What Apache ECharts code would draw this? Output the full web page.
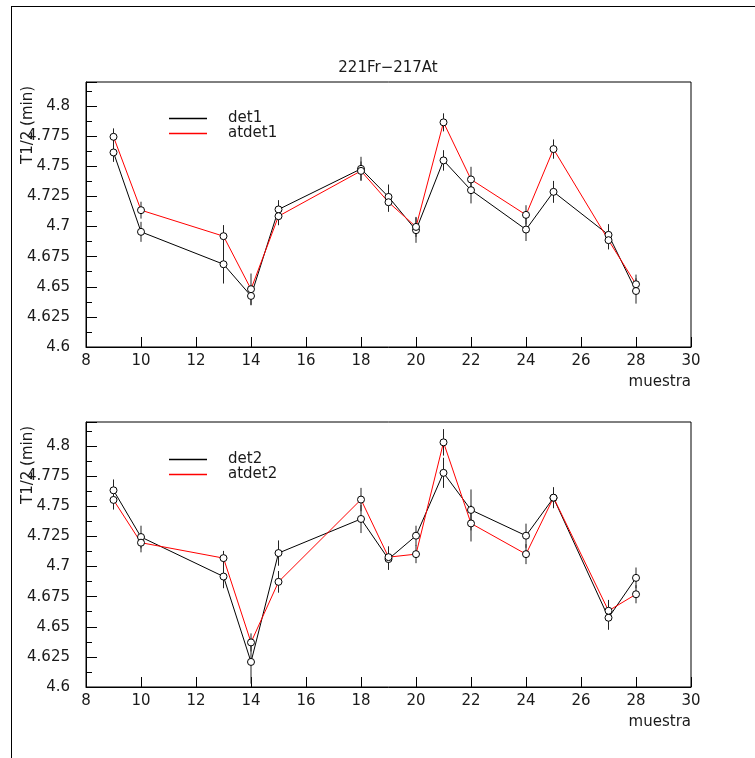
<!DOCTYPE html>
<html>
<head>
<meta charset="utf-8">
<script src="https://cdn.jsdelivr.net/npm/echarts@6/dist/echarts.min.js"></script>
<style>
  html, body { margin: 0; padding: 0; background: #fff; }
  #chart { width: 755px; height: 758px; }
</style>
</head>
<body>
<div id="chart"></div>
<script>
// Sample numbers (x) shared by both panels
const samples = [9, 10, 13, 14, 15, 18, 19, 20, 21, 22, 24, 25, 27, 28];

// Upper panel: half-life per sample, detector 1
const det1     = [4.7615, 4.6956, 4.6687, 4.6424, 4.7142, 4.7479, 4.7246, 4.6970, 4.7549, 4.7302, 4.6975, 4.7288, 4.6931, 4.6465];
const det1Err  = [0.0078, 0.0083, 0.0160, 0.0078, 0.0077, 0.0100, 0.0103, 0.0105, 0.0085, 0.0110, 0.0095, 0.0091, 0.0089, 0.0105];
const atdet1    = [4.7745, 4.7136, 4.6920, 4.6480, 4.7086, 4.7462, 4.7202, 4.6997, 4.7865, 4.7391, 4.7097, 4.7643, 4.6887, 4.6521];
const atdet1Err = [0.0070, 0.0070, 0.0092, 0.0130, 0.0075, 0.0078, 0.0080, 0.0083, 0.0075, 0.0105, 0.0080, 0.0080, 0.0077, 0.0080];

// Lower panel: half-life per sample, detector 2
const det2     = [4.7633, 4.7245, 4.6917, 4.6208, 4.7112, 4.7395, 4.7062, 4.7256, 4.7778, 4.7470, 4.7256, 4.7570, 4.6575, 4.6906];
const det2Err  = [0.0090, 0.0094, 0.0097, 0.0180, 0.0105, 0.0117, 0.0090, 0.0083, 0.0125, 0.0170, 0.0100, 0.0086, 0.0100, 0.0086];
const atdet2    = [4.7553, 4.7198, 4.7070, 4.6370, 4.6873, 4.7556, 4.7078, 4.7103, 4.8031, 4.7358, 4.7103, 4.7572, 4.6633, 4.6770];
const atdet2Err = [0.0080, 0.0080, 0.0060, 0.0075, 0.0090, 0.0097, 0.0090, 0.0075, 0.0110, 0.0150, 0.0083, 0.0086, 0.0090, 0.0075];

// Axis tick labels
const xTickLabels = ['8', '10', '12', '14', '16', '18', '20', '22', '24', '26', '28', '30'];
const yTickLabels = ['4.6', '4.625', '4.65', '4.675', '4.7', '4.725', '4.75', '4.775', '4.8'];

const chartTitle = '221Fr\u2212217At';
const yTitle = 'T1/2 (min)';
const xTitle = 'muestra';

const FONT = 'DejaVu Sans';
const INK = '#1a1a1a';

function pickLabel(list, value) {
  const hit = list.find(l => Math.abs(parseFloat(l) - value) < 1e-6);
  return hit === undefined ? '' : hit;
}

const grids = [
  { left: 86, right: 64, top: 82, height: 265 },
  { left: 86, right: 64, top: 422, height: 265 }
];

function xAxisFor(idx) {
  return {
    gridIndex: idx, type: 'value', min: 8, max: 30, interval: 2,
    axisLine: { lineStyle: { color: '#000', width: 1 } },
    axisTick: { inside: true, length: 10, lineStyle: { color: '#000' } },
    axisLabel: { color: INK, fontFamily: FONT, fontSize: 15, margin: 7,
      formatter: v => pickLabel(xTickLabels, v) },
    splitLine: { show: false },
    name: xTitle, nameLocation: 'end', nameGap: 0,
    nameTextStyle: { color: INK, fontFamily: FONT, fontSize: 15, align: 'right',
      verticalAlign: 'top', padding: [28, 0, 0, 0] }
  };
}

function yAxisFor(idx) {
  return {
    gridIndex: idx, type: 'value', min: 4.6, max: 4.82, interval: 0.025,
    axisLine: { lineStyle: { color: '#000', width: 1 } },
    axisTick: { inside: true, length: 11, lineStyle: { color: '#000' } },
    minorTick: { show: true, splitNumber: 2, length: 6, lineStyle: { color: '#000' } },
    axisLabel: { color: INK, fontFamily: FONT, fontSize: 15, margin: 16,
      formatter: v => pickLabel(yTickLabels, v) },
    splitLine: { show: false },
    minorSplitLine: { show: false }
  };
}

function errorBars(idx, values, errs) {
  return {
    type: 'custom', xAxisIndex: idx, yAxisIndex: idx, z: 1, silent: true,
    data: samples.map((x, i) => [x, values[i] - errs[i], values[i] + errs[i]]),
    encode: { x: 0, y: [1, 2] },
    renderItem: function (params, api) {
      const a = api.coord([api.value(0), api.value(1)]);
      const b = api.coord([api.value(0), api.value(2)]);
      return { type: 'line', shape: { x1: a[0], y1: a[1], x2: b[0], y2: b[1] },
        style: { stroke: '#222', lineWidth: 1 } };
    }
  };
}

function curve(idx, name, values, color) {
  return {
    type: 'line', name: name, xAxisIndex: idx, yAxisIndex: idx, z: 3,
    data: samples.map((x, i) => [x, values[i]]),
    symbol: 'circle', symbolSize: 7, showAllSymbol: true,
    itemStyle: { color: '#fff', borderColor: '#000', borderWidth: 1 },
    lineStyle: { color: color, width: 1 },
    emphasis: { disabled: true }, animation: false
  };
}

function legendFor(top, names) {
  return {
    orient: 'vertical', left: 169, top: top, padding: 0, itemGap: 0,
    itemWidth: 38, itemHeight: 1.4, selectedMode: false,
    textStyle: { color: INK, fontFamily: FONT, fontSize: 15, padding: [0, 0, 0, 16] },
    data: [
      { name: names[0], icon: 'rect', itemStyle: { color: '#000', borderWidth: 0 } },
      { name: names[1], icon: 'rect', itemStyle: { color: '#ff0000', borderWidth: 0 } }
    ]
  };
}

const chart = echarts.init(document.getElementById('chart'), null, { renderer: 'canvas' });
chart.setOption({
  animation: false,
  backgroundColor: '#fff',
  grid: grids.map(g => Object.assign({ show: true, borderColor: '#000', borderWidth: 1,
    backgroundColor: 'transparent' }, g)),
  xAxis: [xAxisFor(0), xAxisFor(1)],
  yAxis: [yAxisFor(0), yAxisFor(1)],
  legend: [legendFor(111, ['det1', 'atdet1']), legendFor(452, ['det2', 'atdet2'])],
  series: [
    errorBars(0, det1, det1Err), errorBars(0, atdet1, atdet1Err),
    curve(0, 'det1', det1, '#000'), curve(0, 'atdet1', atdet1, '#ff0000'),
    errorBars(1, det2, det2Err), errorBars(1, atdet2, atdet2Err),
    curve(1, 'det2', det2, '#000'), curve(1, 'atdet2', atdet2, '#ff0000')
  ],
  graphic: [
    // page frame
    { type: 'line', shape: { x1: 11, y1: 6.5, x2: 755, y2: 6.5 }, style: { stroke: '#000', lineWidth: 1 } },
    { type: 'line', shape: { x1: 11.5, y1: 6, x2: 11.5, y2: 758 }, style: { stroke: '#000', lineWidth: 1 } },
    // title above the upper panel
    { type: 'text', x: 388, y: 68,
      style: { text: chartTitle, font: '15px "' + FONT + '"', fill: INK,
        align: 'center', verticalAlign: 'middle', textAlign: 'center', textVerticalAlign: 'middle' } },
    // y-axis titles
    { type: 'text', x: 28, y: 125, rotation: Math.PI / 2,
      style: { text: yTitle, font: '15px "' + FONT + '"', fill: INK,
        align: 'center', verticalAlign: 'middle', textAlign: 'center', textVerticalAlign: 'middle' } },
    { type: 'text', x: 28, y: 465, rotation: Math.PI / 2,
      style: { text: yTitle, font: '15px "' + FONT + '"', fill: INK,
        align: 'center', verticalAlign: 'middle', textAlign: 'center', textVerticalAlign: 'middle' } }
  ]
});
</script>
</body>
</html>
